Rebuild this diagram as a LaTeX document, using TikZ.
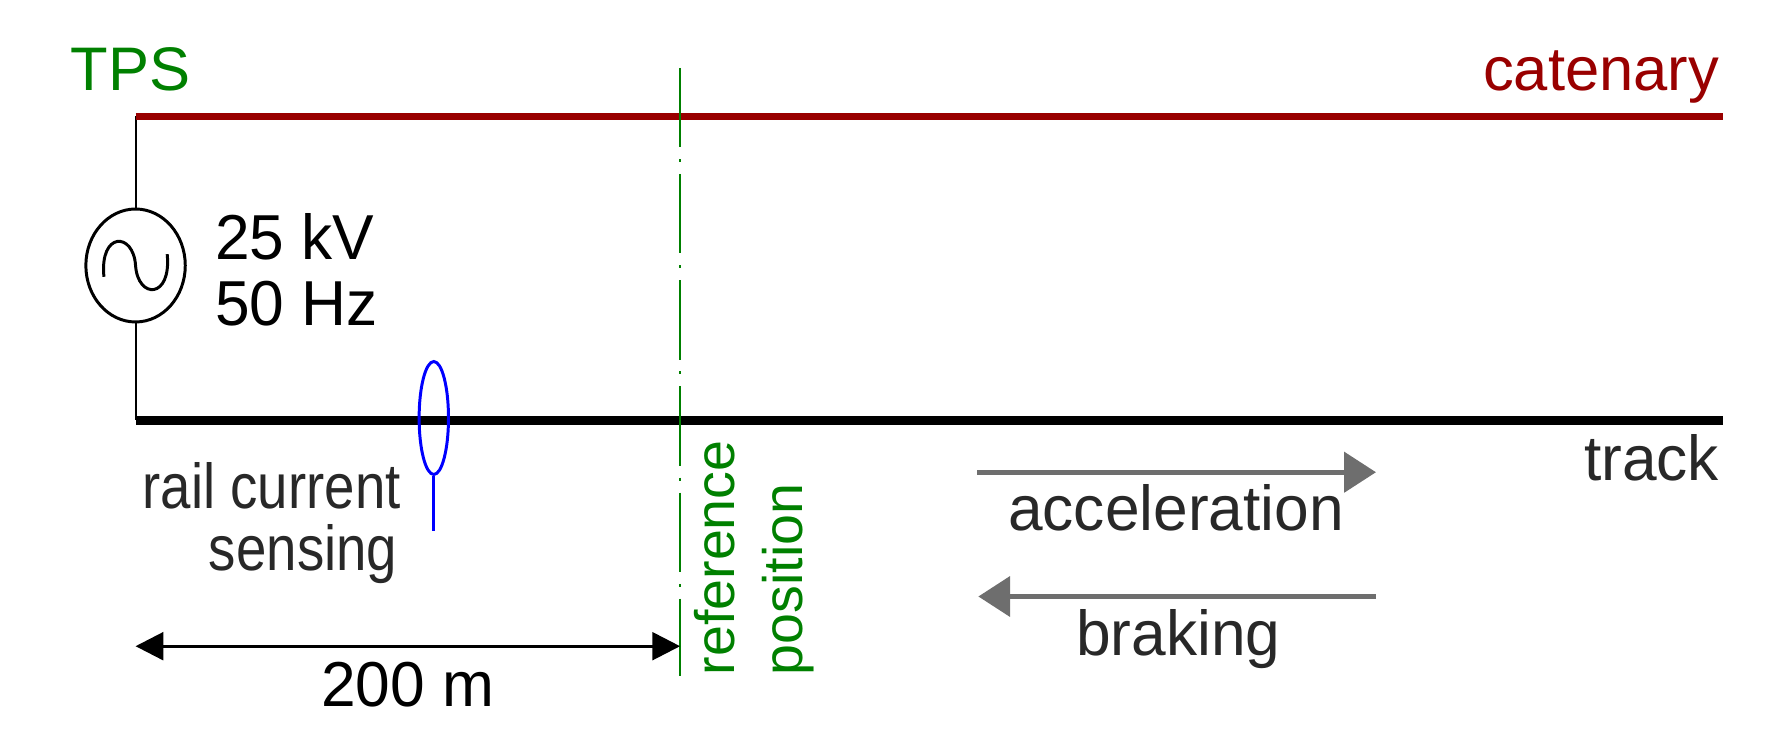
\documentclass[tikz,border=0pt]{standalone}
\usepackage{fontspec}
\setmainfont{Liberation Sans}
\newfontfamily\narrowf[FakeStretch=0.86]{Liberation Sans}
\newfontfamily\midf[FakeStretch=0.98]{Liberation Sans}
\usetikzlibrary{arrows.meta,shapes.geometric}
\definecolor{cat}{RGB}{153,0,0}
\definecolor{grn}{RGB}{0,128,0}
\definecolor{txt}{RGB}{40,40,40}
\definecolor{arr}{RGB}{110,110,110}
\begin{document}
\begin{tikzpicture}[x=0.02cm,y=-0.02cm,
  lbl/.style={font=\midf\fontsize{32}{36}\selectfont,inner sep=0pt},
  nar/.style={font=\narrowf\fontsize{32}{36}\selectfont,inner sep=0pt},
  wide/.style={font=\fontsize{31}{36}\selectfont,inner sep=0pt},
  mv/.style={arr,line width=2.5pt,-{Triangle[length=16pt,width=20pt]}}]
\useasboundingbox (0,0) rectangle (1565,660);
\coordinate (c0) at (120,103); \coordinate (c1) at (1525,103);
\coordinate (t0) at (120,372); \coordinate (t1) at (1525,372);
\node[ellipse,draw,line width=1.5pt,minimum width=88*0.02cm,minimum height=100*0.02cm,inner sep=0pt] (src) at (120,235) {};
\draw[line width=1pt] (c0) -- (src.north) (src.south) -- (t0);
\draw[line width=1.5pt] (92,245) .. controls (88,205) and (118,205) .. (120,235) .. controls (122,265) and (152,265) .. (148,225);
\draw[cat,line width=3.5pt] (c0) -- (c1);
\draw[line width=4.5pt] (t0) -- (t1);
\coordinate (g0) at (602,60); \coordinate (g1) at (602,598);
\draw[grn,line width=1.3pt,dash pattern=on 40pt off 6pt on 1.5pt off 6pt] (g0) -- (g1);
\node[ellipse,draw=blue,line width=1.5pt,minimum width=26*0.02cm,minimum height=100*0.02cm,inner sep=0pt] (sens) at (384,370) {};
\coordinate (s1) at (384,470);
\draw[blue,line width=1.5pt] (sens.south) -- (s1);
\node[wide,grn,anchor=base west] (tps) at (62,80) {TPS};
\node[wide,cat,anchor=base east] (catl) at (1522,80) {catenary};
\node[lbl,anchor=base west] (v) at (190,230) {25 kV};
\node[lbl,anchor=base west] (f) at (190,288) {50 Hz};
\node[nar,txt,anchor=base east] (r1) at (355,450) {rail current};
\node[nar,txt,anchor=base east] (r2) at (352,505) {sensing};
\node[lbl,txt,anchor=base east] (tr) at (1522,425) {track};
\node[wide,grn,font=\fontsize{28}{32}\selectfont,rotate=90,anchor=base west] (ref) at (650,598) {reference};
\node[wide,grn,font=\fontsize{28}{32}\selectfont,rotate=90,anchor=base west] (pos) at (710,598) {position};
\coordinate (d0) at (120,572); \coordinate (d1) at (602,572);
\draw[line width=1.5pt,{Triangle[length=14pt,width=14pt]}-{Triangle[length=14pt,width=14pt]}] (d0) -- (d1);
\node[lbl,anchor=base] (dist) at (361,625) {200 m};
\coordinate (a0) at (865,418); \coordinate (a1) at (1218,418);
\draw[mv] (a0) -- (a1);
\node[lbl,txt,anchor=base] (acc) at (1041,470) {acceleration};
\coordinate (b0) at (1218,528); \coordinate (b1) at (866,528);
\draw[mv] (b0) -- (b1);
\node[lbl,txt,anchor=base] (brk) at (1043,580) {braking};
\end{tikzpicture}
\end{document}
